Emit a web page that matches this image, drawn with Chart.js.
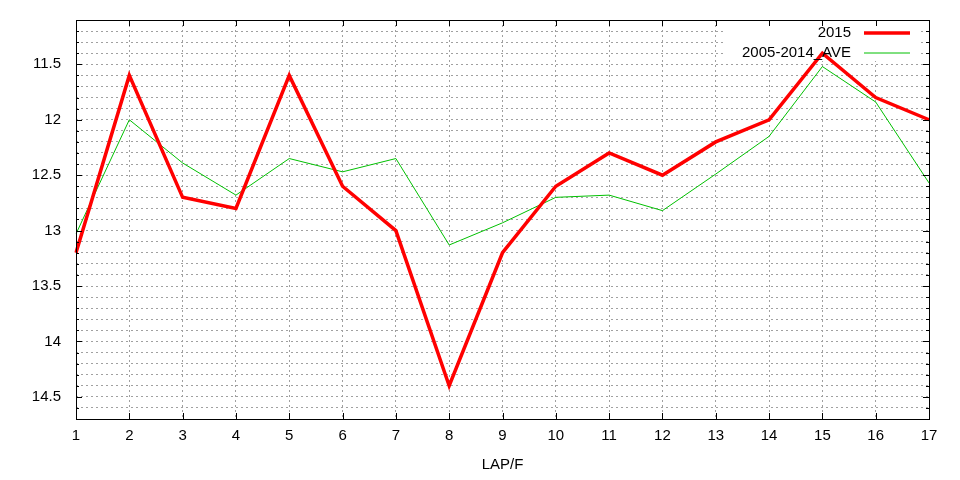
<!DOCTYPE html>
<html>
<head>
<meta charset="utf-8">
<script src="https://cdn.jsdelivr.net/npm/chart.js@4"></script>
<style>
  html, body { margin: 0; padding: 0; background: #fff; }
  #wrap { width: 960px; height: 480px; }
</style>
</head>
<body>
<div id="wrap"><canvas id="lapChart"></canvas></div>
<script>
// data
const laps = ['1','2','3','4','5','6','7','8','9','10','11','12','13','14','15','16','17'];
const lap2015 = [13.2, 11.6, 12.7, 12.8, 11.6, 12.6, 13.0, 14.4, 13.2, 12.6, 12.3, 12.5, 12.2, 12.0, 11.4, 11.8, 12.0];
const lapAve = [13.03, 12.0, 12.39, 12.68, 12.35, 12.47, 12.35, 13.13, 12.93, 12.7, 12.68, 12.82, 12.49, 12.15, 11.52, 11.84, 12.57];
const seriesNames = ['2015', '2005-2014_AVE'];
const yMin = 11.1, yMax = 14.7, yStep = 0.1;

const FONT = 'Liberation Sans, Arial, sans-serif';

// gnuplot style frame, inward ticks and opaque key
const gnuFrame = {
    id: 'gnuFrame',
    beforeDatasetsDraw(chart) {
        const a = chart.chartArea, ctx = chart.ctx;
        ctx.save();
        ctx.fillStyle = '#fff';
        ctx.fillRect(a.right - 204, a.top + 1, 194, 40);
        ctx.restore();
    },
    afterDatasetsDraw(chart) {
        const {ctx, chartArea: a, scales} = chart;
        const x = scales.x, y = scales.y;
        ctx.save();
        ctx.strokeStyle = '#000';
        ctx.lineWidth = 1;
        ctx.beginPath();
        y.ticks.forEach(t => {
            const py = Math.round(y.getPixelForValue(t.value)) + 0.5;
            const major = Math.round(t.value * 10) % 5 === 0;
            const len = major ? 6 : 3;
            ctx.moveTo(a.left, py); ctx.lineTo(a.left + len, py);
            ctx.moveTo(a.right, py); ctx.lineTo(a.right - len, py);
        });
        x.ticks.forEach((t, i) => {
            const px = Math.round(x.getPixelForTick(i)) + 0.5;
            ctx.moveTo(px, a.bottom); ctx.lineTo(px, a.bottom - 6);
            ctx.moveTo(px, a.top); ctx.lineTo(px, a.top + 6);
        });
        ctx.stroke();
        ctx.strokeRect(Math.round(a.left) + 0.5, Math.round(a.top) + 0.5,
            Math.round(a.right - a.left), Math.round(a.bottom - a.top));

        // key
        ctx.font = '15px ' + FONT;
        ctx.textAlign = 'right';
        ctx.textBaseline = 'middle';
        ctx.fillStyle = '#000';
        chart.data.datasets.forEach((ds, i) => {
            const ly = a.top + 13 + i * 20;
            ctx.fillText(ds.label, a.right - 78, ly);
            ctx.beginPath();
            ctx.strokeStyle = ds.borderColor;
            ctx.lineWidth = ds.borderWidth;
            ctx.moveTo(a.right - 65, ly);
            ctx.lineTo(a.right - 19, ly);
            ctx.stroke();
        });
        ctx.restore();
    }
};

new Chart(document.getElementById('lapChart'), {
    type: 'line',
    data: {
        labels: laps,
        datasets: [{
            label: seriesNames[0],
            data: lap2015,
            borderColor: '#ff0000',
            borderWidth: 3.5,
            borderJoinStyle: 'miter',
            pointRadius: 0,
            tension: 0
        }, {
            label: seriesNames[1],
            data: lapAve,
            borderColor: '#00c000',
            borderWidth: 1,
            pointRadius: 0,
            tension: 0
        }]
    },
    options: {
        responsive: true,
        maintainAspectRatio: false,
        animation: false,
        layout: { padding: { top: 20, right: 31, left: 0, bottom: 0 } },
        plugins: {
            legend: { display: false },
            tooltip: { enabled: false }
        },
        scales: {
            x: {
                grid: { color: '#a0a0a0', drawTicks: false },
                border: { display: false, dash: [2, 3] },
                ticks: {
                    color: '#000',
                    font: { family: FONT, size: 15 },
                    padding: 8,
                    autoSkip: false,
                    maxRotation: 0
                },
                title: {
                    display: true,
                    text: 'LAP/F',
                    color: '#000',
                    font: { family: FONT, size: 15 },
                    padding: { top: 0, bottom: 6 }
                },
                afterFit(scale) { scale.height = 61; }
            },
            y: {
                reverse: true,
                min: yMin,
                max: yMax,
                grid: { color: '#a0a0a0', drawTicks: false },
                border: { display: false, dash: [2, 3] },
                ticks: {
                    stepSize: yStep,
                    maxTicksLimit: 100,
                    autoSkip: false,
                    color: '#000',
                    font: { family: FONT, size: 15 },
                    padding: 15,
                    callback: function(value) {
                        const v = Math.round(value * 10) / 10;
                        return Math.round(v * 10) % 5 === 0 ? String(v) : '';
                    }
                },
                afterFit(scale) {
                    scale.width = 76;
                    scale.paddingTop = 0;
                    scale.paddingBottom = 0;
                }
            }
        }
    },
    plugins: [gnuFrame]
});
</script>
</body>
</html>
